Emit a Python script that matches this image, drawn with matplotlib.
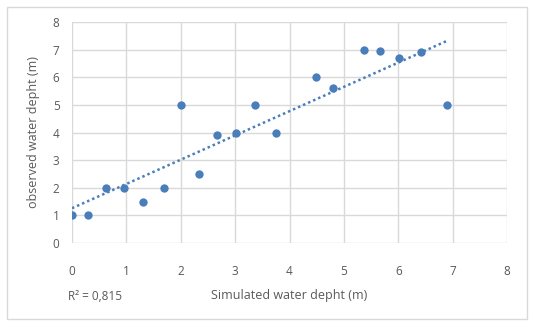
import numpy as np
import matplotlib
matplotlib.use('Agg')
import matplotlib.pyplot as plt
from matplotlib.patches import Rectangle

# simulated vs observed water depth (m)
simulated = [0.0, 0.3, 0.62, 0.96, 1.3, 1.69, 2.0, 2.33, 2.66, 3.01,
             3.36, 3.75, 4.49, 4.8, 5.37, 5.66, 6.01, 6.42, 6.89]
observed = [1.0, 1.0, 2.0, 2.0, 1.5, 2.0, 5.0, 2.5, 3.9, 4.0,
            5.0, 4.0, 6.0, 5.6, 7.0, 6.95, 6.7, 6.9, 5.0]
ticks = [0, 1, 2, 3, 4, 5, 6, 7, 8]
r2_label = 'R² = 0,815'

W, H = 533, 326
BLUE = '#4a7ebb'
GRID = '#d9d9d9'
TEXT = '#595959'

plt.rcParams['font.family'] = ['Open Sans', 'DejaVu Sans']

fig = plt.figure(figsize=(W / 100, H / 100), dpi=100)
fig.patch.set_facecolor('white')

# outer chart border
fig.patches.append(Rectangle((7 / W, 1 - 319 / H), 520 / W, 312 / H,
                             transform=fig.transFigure, fill=False,
                             edgecolor=GRID, linewidth=1))

ax = fig.add_axes([72 / W, 1 - 243 / H, 435 / W, 221 / H])
ax.set_xlim(0, 8)
ax.set_ylim(0, 8)
ax.set_xticks(ticks)
ax.set_yticks(ticks)
ax.grid(True, color=GRID, linewidth=1)
ax.set_axisbelow(True)
for s in ax.spines.values():
    s.set_visible(False)
ax.tick_params(length=0, labelsize=8.5, colors=TEXT)
ax.tick_params(axis='x', pad=16)
ax.tick_params(axis='y', pad=9)

ax.scatter(simulated, observed, s=36, color=BLUE, zorder=3, linewidths=0)

# linear trendline
k, b = np.polyfit(simulated, observed, 1)
xs = np.array([min(simulated), max(simulated)])
ax.plot(xs, k * xs + b, color=BLUE, linestyle=(0, (1, 1.2)), linewidth=1.8,
        zorder=2)

ax.set_xlabel('Simulated water depht (m)', fontsize=9, color=TEXT, labelpad=8)
ax.set_ylabel('observed water depht (m)', fontsize=9, color=TEXT, labelpad=9)

fig.text(68 / W, 1 - 297 / H, r2_label, fontsize=8.5, color=TEXT,
         ha='left', va='center')

fig.savefig('out.png', dpi=100)
